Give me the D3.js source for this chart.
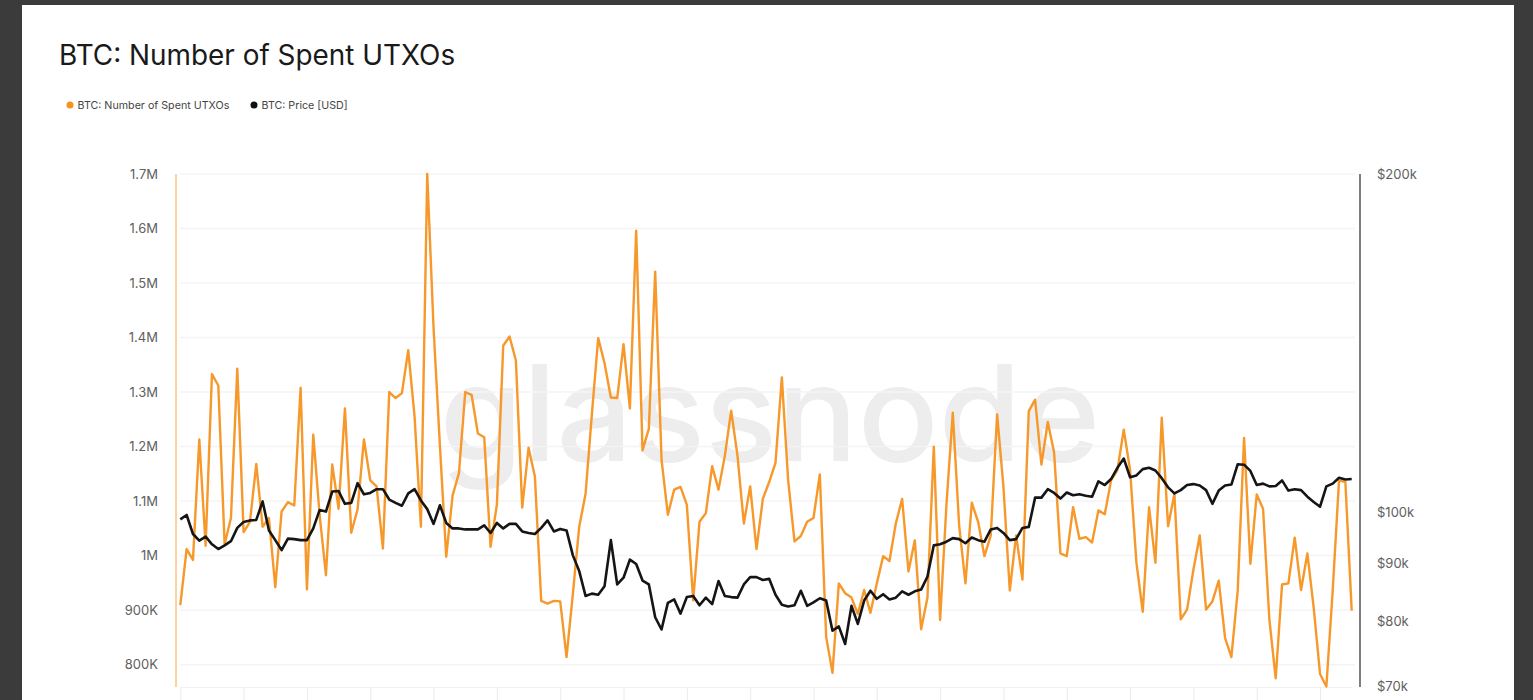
<!DOCTYPE html>
<html>
<head>
<meta charset="utf-8">
<title>BTC: Number of Spent UTXOs</title>
<script src="https://cdn.jsdelivr.net/npm/d3@7"></script>
<style>
  html, body { margin: 0; padding: 0; background: #3b3b3b; overflow: hidden; }
  text { font-family: Inter, "Liberation Sans", sans-serif; }
</style>
</head>
<body>
<div id="chart"></div>
<script>
// Values, one per day (thousands of UTXOs / thousands of USD)
var spentUtxos = [
  909,1012,992,1213,1018,1333,1312,1021,1069,1343,
  1043,1062,1168,1053,1069,942,1081,1098,1092,1308,
  938,1222,1075,964,1167,1086,1270,1042,1085,1213,
  1138,1127,1013,1300,1289,1298,1377,1255,1053,1700,
  1417,1202,998,1110,1151,1300,1295,1224,1217,1016,
  1094,1385,1402,1358,1088,1198,1145,917,912,917,
  916,814,930,1053,1113,1259,1399,1353,1290,1289,
  1388,1270,1596,1193,1233,1521,1176,1075,1121,1126,
  1093,918,1062,1078,1164,1121,1183,1266,1183,1059,
  1127,1012,1104,1135,1170,1327,1138,1026,1036,1062,
  1069,1149,851,785,949,931,923,893,937,895,
  949,999,990,1059,1104,971,1028,865,923,1200,
  882,1094,1262,1056,949,1097,1062,999,1037,1259,
  1126,936,1037,956,1265,1286,1167,1245,1189,1004,
  999,1089,1031,1034,1024,1083,1076,1138,1157,1231,
  1157,987,897,1089,987,1253,1054,1113,883,901,
  974,1037,901,916,954,849,814,936,1216,985,
  1112,1086,882,775,947,949,1033,937,1004,904,
  783,760,936,1138,1135,899
];
var btcPrice = [
  98.5,99.4,95.6,94.3,95.1,93.6,92.7,93.4,94.2,96.8,
  98.0,98.3,98.4,102.2,96.3,94.4,92.5,94.7,94.6,94.4,
  94.4,96.7,100.4,100.1,104.3,104.4,101.7,101.9,106.1,103.7,
  104.0,104.8,104.8,102.6,101.9,101.3,103.9,104.8,102.4,100.6,
  97.6,101.4,97.8,96.7,96.7,96.5,96.5,96.5,97.3,95.8,
  97.8,96.7,97.6,97.6,96.1,95.8,95.6,96.8,98.3,96.1,
  96.6,96.3,91.5,88.6,84.2,84.6,84.4,85.9,94.4,86.2,
  87.4,90.7,89.9,86.9,86.2,80.6,78.6,83.0,83.6,81.2,
  84.0,84.2,82.6,83.9,82.8,86.8,84.2,84.0,83.9,86.2,
  87.5,87.5,87.0,87.2,84.4,82.7,82.4,82.6,85.1,82.5,
  83.1,83.8,83.4,78.4,79.1,76.3,82.5,79.5,83.4,85.1,
  83.7,84.5,83.6,83.9,85.0,84.4,85.0,85.3,87.6,93.4,
  93.6,94.1,94.8,94.6,93.8,94.9,94.4,94.1,96.5,96.8,
  95.8,94.4,94.6,96.8,97.0,103.0,103.0,104.8,104.0,102.8,
  104.1,103.5,103.7,103.4,103.2,106.5,105.7,107.0,109.5,111.6,
  107.4,107.8,109.2,109.5,108.9,107.2,105.2,103.9,104.6,105.7,
  105.9,105.6,104.6,101.7,104.5,105.6,105.8,110.3,110.2,108.8,
  105.7,106.0,105.4,105.5,106.7,104.5,104.8,104.6,103.2,102.1,
  101.1,105.4,106.0,107.3,106.9,107.0
];
var leftTicks = [800, 900, 1000, 1100, 1200, 1300, 1400, 1500, 1600, 1700];
var leftLabels = ["800K", "900K", "1M", "1.1M", "1.2M", "1.3M", "1.4M", "1.5M", "1.6M", "1.7M"];
var rightTicks = [70, 80, 90, 100, 200];
var rightLabels = ["$70k", "$80k", "$90k", "$100k", "$200k"];
var xTicks = [0, 10, 20, 30, 40, 50, 60, 70, 80, 90, 100, 110, 120, 130, 140, 150, 160, 170, 180];
var legendNames = ["BTC: Number of Spent UTXOs", "BTC: Price [USD]"];

var svgWidth = 1533;
var svgHeight = 700;
var plotTop = 174;
var plotBottom = 687;

var svg = d3.select("#chart").append("svg")
    .attr("width", svgWidth)
    .attr("height", svgHeight)
    .style("display", "block");

// White card on the dark screenshot background
svg.append("rect")
    .attr("x", 22).attr("y", 5)
    .attr("width", 1492).attr("height", 700)
    .attr("fill", "#ffffff");

// Scales
var x = d3.scaleLinear().domain([0, spentUtxos.length - 1]).range([180.3, 1351.7]);
var yLeft = d3.scaleLinear().domain([759, 1700]).range([plotBottom, plotTop]);
var yRight = d3.scaleLog().domain([70, 200]).range([plotBottom - 1, plotTop]);

// Watermark
svg.append("text")
    .attr("x", 770).attr("y", 461)
    .attr("text-anchor", "middle")
    .attr("font-size", 134)
    .attr("font-weight", 500)
    .attr("fill", "#ededed")
    .text("glassnode");

// Gridlines
svg.append("g").selectAll("line")
    .data(leftTicks)
    .join("line")
    .attr("x1", 180).attr("x2", 1355)
    .attr("y1", d => yLeft(d)).attr("y2", d => yLeft(d))
    .attr("stroke", "#f4f4f4").attr("stroke-width", 1.5);

// Axes
var leftAxis = d3.axisLeft(yLeft)
    .tickValues(leftTicks)
    .tickFormat((d, i) => leftLabels[i])
    .tickSize(0).tickPadding(0);
var rightAxis = d3.axisRight(yRight)
    .tickValues(rightTicks)
    .tickFormat((d, i) => rightLabels[i])
    .tickSize(0).tickPadding(0);
var bottomAxis = d3.axisBottom(x)
    .tickValues(xTicks)
    .tickFormat("")
    .tickSize(13).tickSizeOuter(0);

var leftG = svg.append("g").attr("transform", "translate(158,0)").call(leftAxis);
var rightG = svg.append("g").attr("transform", "translate(1377,0)").call(rightAxis);
var bottomG = svg.append("g").attr("transform", `translate(0,${plotBottom})`).call(bottomAxis);

leftG.select(".domain").remove();
rightG.select(".domain").remove();
bottomG.select(".domain").attr("stroke", "#f2f2f2");
bottomG.selectAll("line").attr("stroke", "#ebebeb");
svg.selectAll(".tick text")
    .attr("font-family", "Inter, sans-serif")
    .attr("font-size", 13)
    .attr("fill", "#606060");

// Axis rails in the series colours
svg.append("line")
    .attr("x1", 176).attr("x2", 176).attr("y1", plotTop).attr("y2", plotBottom)
    .attr("stroke", "#f7931a").attr("stroke-opacity", 0.55).attr("stroke-width", 1.5);
svg.append("line")
    .attr("x1", 1360).attr("x2", 1360).attr("y1", plotTop).attr("y2", plotBottom)
    .attr("stroke", "#555555").attr("stroke-width", 1.5);

// Lines
var utxoLine = d3.line().x((d, i) => x(i)).y(d => yLeft(d));
var priceLine = d3.line().x((d, i) => x(i)).y(d => yRight(d));

svg.append("path")
    .datum(spentUtxos)
    .attr("d", utxoLine)
    .attr("fill", "none")
    .attr("stroke", "#f7982a")
    .attr("stroke-width", 2.4)
    .attr("stroke-linejoin", "round");

svg.append("path")
    .datum(btcPrice)
    .attr("d", priceLine)
    .attr("fill", "none")
    .attr("stroke", "#151515")
    .attr("stroke-width", 2.6)
    .attr("stroke-linejoin", "round");

// Title
svg.append("text")
    .attr("x", 59).attr("y", 65)
    .attr("font-size", 27.9)
    .attr("fill", "#1a1a1a")
    .text("BTC: Number of Spent UTXOs");

// Legend
var legendColors = ["#f7931a", "#111111"];
var legendX = [70, 254];
legendNames.forEach(function(name, i) {
    svg.append("circle")
        .attr("cx", legendX[i]).attr("cy", 105).attr("r", 3.5)
        .attr("fill", legendColors[i]);
    svg.append("text")
        .attr("x", legendX[i] + 7.5).attr("y", 109)
        .attr("font-size", 10.7)
        .attr("fill", "#444444")
        .text(name);
});
</script>
</body>
</html>
